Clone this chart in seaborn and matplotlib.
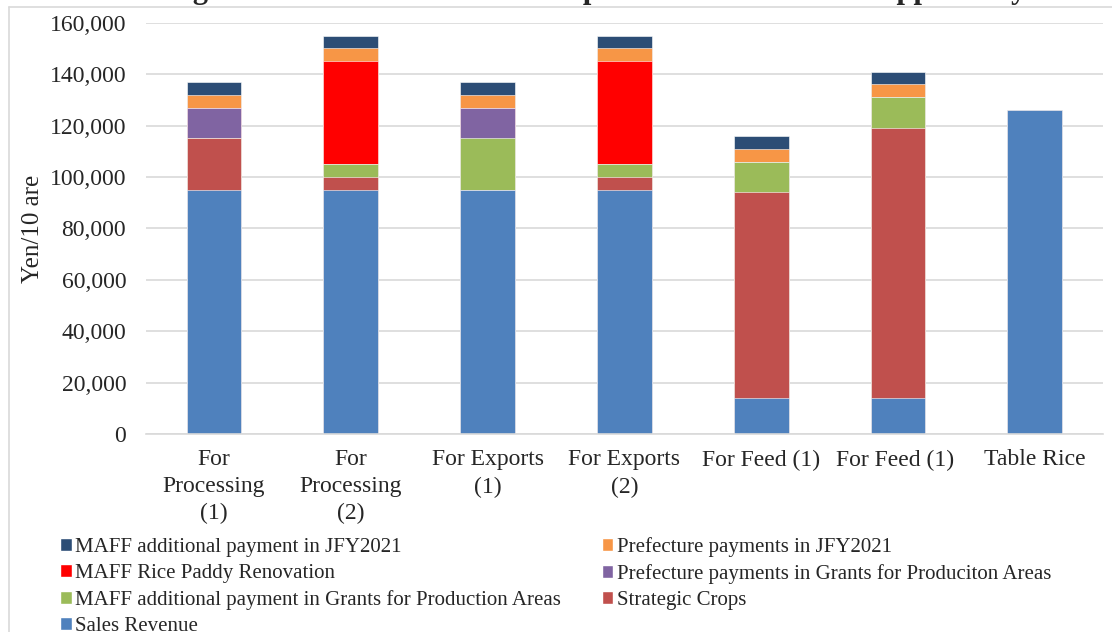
import numpy as np
import pandas as pd
import matplotlib.pyplot as plt
import seaborn as sns
from matplotlib.lines import Line2D
from matplotlib.patches import Patch

# -----------------------------
# Data (Yen / 10 are)
# -----------------------------
categories = ['For\nProcessing\n(1)', 'For\nProcessing\n(2)', 'For Exports\n(1)',
              'For Exports\n(2)', 'For Feed (1)', 'For Feed (1) ', 'Table Rice']

sales_revenue = [95000, 95000, 95000, 95000, 14000, 14000, 126000]
strategic_crops = [20000, 5000, 0, 5000, 80000, 105000, 0]
maff_grants_areas = [0, 5000, 20000, 5000, 12000, 12000, 0]
pref_grants_areas = [12000, 0, 12000, 0, 0, 0, 0]
maff_paddy = [0, 40000, 0, 40000, 0, 0, 0]
pref_jfy2021 = [5000, 5000, 5000, 5000, 5000, 5000, 0]
maff_jfy2021 = [5000, 5000, 5000, 5000, 5000, 5000, 0]

# bottom -> top
series_names = ['Sales Revenue', 'Strategic Crops',
                'MAFF additional payment in Grants for Production Areas',
                'Prefecture payments in Grants for Produciton Areas',
                'MAFF Rice Paddy Renovation', 'Prefecture payments in JFY2021',
                'MAFF additional payment in JFY2021']
series_values = [sales_revenue, strategic_crops, maff_grants_areas, pref_grants_areas,
                 maff_paddy, pref_jfy2021, maff_jfy2021]
series_colors = ['#4F81BD', '#C0504D', '#9BBB59', '#8064A2', '#FF0000', '#F79646', '#2C4D75']

df = pd.DataFrame({name: vals for name, vals in zip(series_names, series_values)})
df['category'] = categories
cum = df[series_names].cumsum(axis=1)

# -----------------------------
# Plot
# -----------------------------
sns.set_style('white')
plt.rcParams['font.family'] = ['Liberation Serif', 'DejaVu Serif']

fig = plt.figure(figsize=(11.12, 6.32), dpi=100)
ax = fig.add_axes([0.131, 0.313, 0.861, 0.651])

# draw cumulative totals from the top layer down so lower layers overlay
for name, color in reversed(list(zip(series_names, series_colors))):
    sns.barplot(x=df['category'], y=cum[name], color=color, width=0.4, saturation=1,
                edgecolor='white', linewidth=0.4, ax=ax, order=categories)

ax.set_ylim(0, 160000)
ax.set_yticks(np.arange(0, 160001, 20000))
ax.set_yticklabels([f'{v:,}' for v in range(0, 160001, 20000)], fontsize=17)
ax.set_xticks(range(len(categories)))
ax.set_xticklabels(categories, fontsize=17, linespacing=1.37)
ax.set_xlim(-0.5, len(categories) - 0.5)
ax.set_xlabel('')
ax.set_ylabel('Yen/10 are', fontsize=18, labelpad=4)
ax.tick_params(axis='both', length=0)
ax.tick_params(axis='y', pad=14)
ax.tick_params(axis='x', pad=11)
ax.yaxis.grid(True, color='#D9D9D9', linewidth=1.2)
ax.set_axisbelow(True)
for s in ['top', 'right', 'left']:
    ax.spines[s].set_visible(False)
ax.spines['bottom'].set_color('#D9D9D9')
ax.spines['bottom'].set_linewidth(1.2)

# legend, filled row by row like the original
handles = {n: Patch(facecolor=c) for n, c in zip(series_names, series_colors)}
col1 = ['MAFF additional payment in JFY2021', 'MAFF Rice Paddy Renovation',
        'MAFF additional payment in Grants for Production Areas', 'Sales Revenue']
col2 = ['Prefecture payments in JFY2021', 'Prefecture payments in Grants for Produciton Areas',
        'Strategic Crops']
order = col1 + col2
fig.legend([handles[n] for n in order], order, ncol=2, loc='upper left',
           bbox_to_anchor=(0.054, 0.150), frameon=False, fontsize=15,
           handlelength=0.55, handleheight=0.55, handletextpad=0.18,
           columnspacing=1.95, labelspacing=0.33, borderaxespad=0, borderpad=0)

# title cut off at the top like the source image
fig.text(45 / 1112, 1 + 2 / 632, 'Chart 4 Niigata Prefecture Revenue Comparison with Various Support Payments',
         fontsize=22, fontweight='bold', ha='left', va='baseline')

# chart area border
fig.add_artist(Line2D([9 / 1112, 9 / 1112], [0, 1 - 7 / 632], color='#D9D9D9', lw=1.2))
fig.add_artist(Line2D([9 / 1112, 1], [1 - 7 / 632, 1 - 7 / 632], color='#D9D9D9', lw=1.2))

plt.savefig('out.png', dpi=100)
plt.close()
